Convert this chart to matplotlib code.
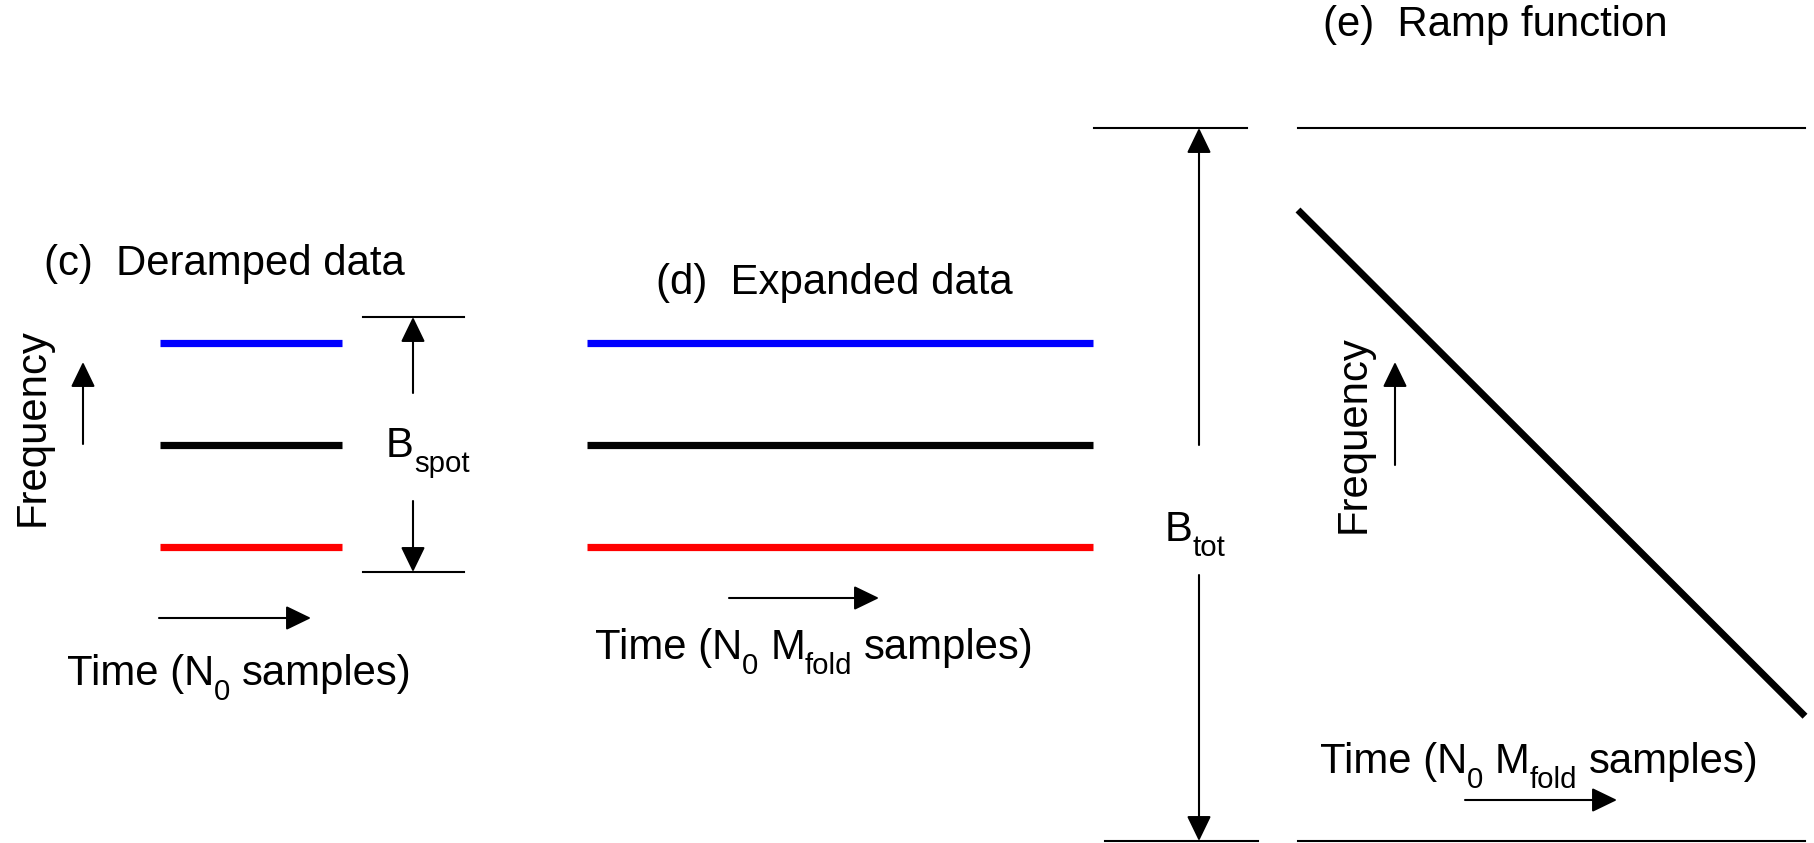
import matplotlib
matplotlib.use("Agg")
import matplotlib.pyplot as plt

plt.rcParams["font.family"] = ["Liberation Sans", "DejaVu Sans"]

# ---- schematic content -------------------------------------------------
tone_colors = ["#0000ff", "#000000", "#ff0000"]   # upper, centre, lower tone
tone_offsets = [0.8, 0.0, -0.8]                   # frequency, units of B_spot/2
deramped_time = [0.0, 1.0]                        # N0 samples
expanded_time = [0.0, 1.0]                        # N0*Mfold samples
ramp_time = [0.0, 1.0]
ramp_freq = [0.77, -0.65]                         # units of B_tot/2
band_edges = [1.0, -1.0]

titles = ["(c)  Deramped data", "(d)  Expanded data", "(e)  Ramp function"]
# (text, is_subscript) runs
time_short = [("Time (N", 0), ("0", 1), (" ", 0), ("samples)", 0)]
time_long = [("Time (N", 0), ("0", 1), (" ", 0), ("M", 0), ("fold", 1),
             (" ", 0), ("samples)", 0)]
freq_label = "Frequency"
bspot_label = [("B", 0), ("spot", 1)]
btot_label = [("B", 0), ("tot", 1)]

W, H, DPI = 1814, 843, 100
FS = 30.2
SUB = 0.7 * FS
DROP = 15.5          # subscript drop, pixels
fig = plt.figure(figsize=(W / DPI, H / DPI), dpi=DPI)
fig.patch.set_facecolor("white")


def panel_axes(x0, x1, y_top, y_bot, ylim):
    ax = fig.add_axes([x0 / W, 1 - y_bot / H, (x1 - x0) / W, (y_bot - y_top) / H])
    ax.set_xlim(0, 1)
    ax.set_ylim(*ylim)
    ax.set_axis_off()
    return ax


# (c) deramped tones and (d) expanded tones share the B_spot scale
ax_c = panel_axes(160, 342, 317, 572, (-1, 1))
ax_d = panel_axes(587, 1093, 317, 572, (-1, 1))
for ax, span in ((ax_c, deramped_time), (ax_d, expanded_time)):
    for f, col in zip(tone_offsets, tone_colors):
        ax.plot(span, [f, f], color=col, lw=5.2, solid_capstyle="butt",
                clip_on=False)

# (e) ramp inside the total band
ax_e = panel_axes(1298, 1805, 128, 841, (-1, 1))
ax_e.plot(ramp_time, ramp_freq, color="black", lw=5.0,
          solid_capstyle="butt", clip_on=False)
for b in band_edges:
    ax_e.plot([0, 1], [b, b], color="black", lw=1.5, clip_on=False)

# ---- annotation layer in figure pixels ---------------------------------
ov = fig.add_axes([0, 0, 1, 1], facecolor="none")
ov.set_xlim(0, W)
ov.set_ylim(H, 0)
ov.set_axis_off()
renderer = fig.canvas.get_renderer()


def _raw_width(s, size):
    t = ov.text(0, 0, s, fontsize=size)
    w = t.get_window_extent(renderer).width
    t.remove()
    return w


def run_width(s, size):
    # advance width, including spaces at the ends
    return _raw_width("." + s + ".", size) - _raw_width("..", size)


def rich_text(x, y, runs, ha="left"):
    sizes = [SUB if sub else FS for _, sub in runs]
    widths = [run_width(s, sz) for (s, _), sz in zip(runs, sizes)]
    if ha == "center":
        x -= sum(widths) / 2
    for (s, sub), sz, w in zip(runs, sizes, widths):
        if s.strip():
            ov.text(x, y + (DROP if sub else 0), s, fontsize=sz,
                    ha="left", va="baseline")
        x += w


AST = "-|>,head_length=1.55,head_width=0.75"


def arrow(x0, y0, x1, y1):
    ov.annotate("", xy=(x1, y1), xytext=(x0, y0),
                arrowprops=dict(arrowstyle=AST, mutation_scale=10, lw=1.5,
                                color="black", shrinkA=0, shrinkB=0))


def hline(x0, x1, y):
    ov.plot([x0, x1], [y, y], color="black", lw=1.5)


# titles
ov.text(224, 264, titles[0], fontsize=FS, ha="center", va="center")
ov.text(834, 283, titles[1], fontsize=FS, ha="center", va="center")
ov.text(1495, 25, titles[2], fontsize=FS, ha="center", va="center")

# frequency axes hints
ov.text(33, 427, freq_label, fontsize=FS, rotation=90, ha="center", va="center")
arrow(83, 444, 83, 362)
ov.text(1354, 434, freq_label, fontsize=FS, rotation=90, ha="center", va="center")
arrow(1395, 465, 1395, 362)

# time axes hints
rich_text(67, 685, time_short)
arrow(159, 618, 311, 618)
rich_text(595, 659, time_long)
arrow(729, 598, 879, 598)
rich_text(1320, 773, time_long)
arrow(1465, 800, 1617, 800)

# B_spot bracket
hline(363, 464, 317)
hline(363, 464, 572)
arrow(413, 393, 413, 317)
arrow(413, 501, 413, 572)
rich_text(386, 457, bspot_label)

# B_tot bracket
hline(1094, 1247, 128)
hline(1105, 1258, 841)
arrow(1199, 445, 1199, 128)
arrow(1199, 575, 1199, 841)
rich_text(1165, 541, btot_label)

fig.savefig("out.png", dpi=DPI, facecolor="white")
